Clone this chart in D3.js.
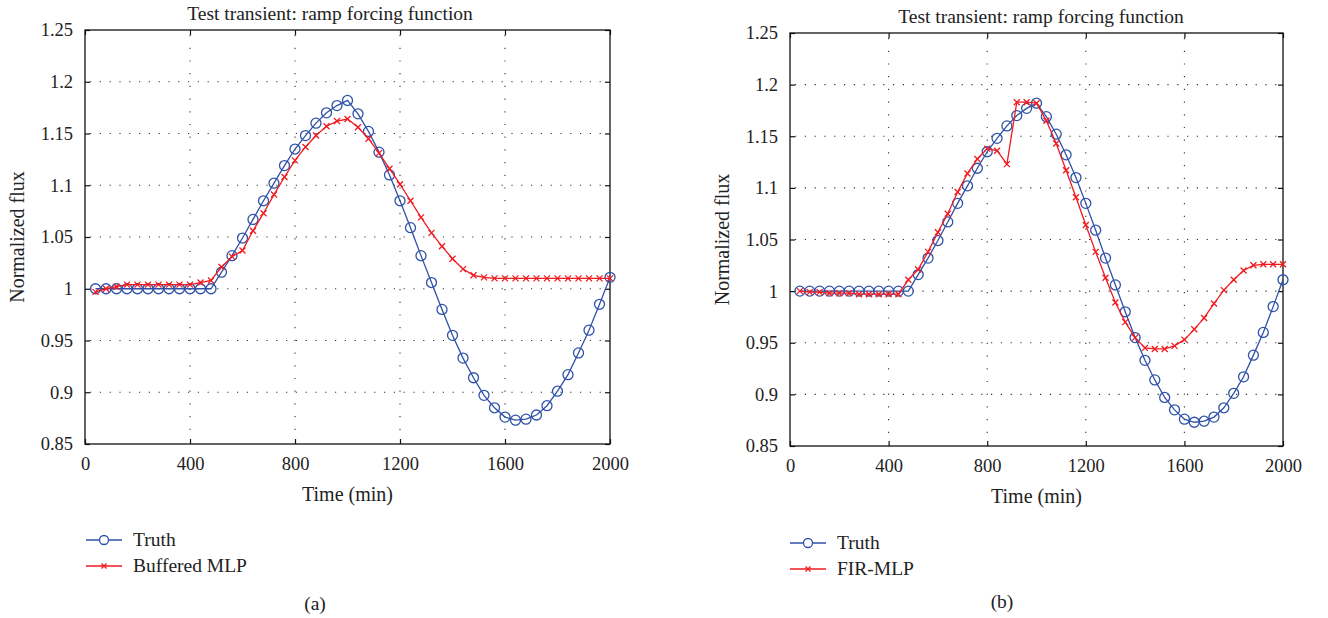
<!DOCTYPE html>
<html>
<head>
<meta charset="utf-8">
<script src="https://cdn.jsdelivr.net/npm/d3@7"></script>
<style>
  body { margin: 0; background: #fff; }
  svg text { font-family: "Liberation Serif", "DejaVu Serif", serif; fill: #222; }
</style>
</head>
<body>
<svg id="chart" width="1328" height="618"></svg>
<script>
// time stamps (min)
var timeMin = [40, 80, 120, 160, 200, 240, 280, 320, 360, 400, 440, 480, 520, 560, 600, 640, 680, 720, 760, 800,
  840, 880, 920, 960, 1000, 1040, 1080, 1120, 1160, 1200, 1240, 1280, 1320, 1360, 1400, 1440, 1480, 1520, 1560, 1600,
  1640, 1680, 1720, 1760, 1800, 1840, 1880, 1920, 1960, 2000];

var truth = [1.000, 1.000, 1.000, 1.000, 1.000, 1.000, 1.000, 1.000, 1.000, 1.000, 1.000, 1.000, 1.016, 1.032, 1.049,
  1.067, 1.085, 1.102, 1.119, 1.135, 1.148, 1.160, 1.170, 1.177, 1.182, 1.169, 1.152, 1.132, 1.110, 1.085, 1.059,
  1.032, 1.006, 0.980, 0.955, 0.933, 0.914, 0.897, 0.885, 0.876, 0.873, 0.874, 0.878, 0.887, 0.901, 0.917, 0.938,
  0.960, 0.985, 1.011];

var bufferedMLP = [0.997, 1.000, 1.002, 1.004, 1.004, 1.004, 1.004, 1.004, 1.004, 1.004, 1.006, 1.008, 1.021, 1.031,
  1.037, 1.056, 1.073, 1.091, 1.108, 1.124, 1.137, 1.148, 1.157, 1.162, 1.164, 1.156, 1.145, 1.131, 1.116, 1.101,
  1.085, 1.069, 1.054, 1.041, 1.029, 1.019, 1.013, 1.011, 1.010, 1.010, 1.010, 1.010, 1.010, 1.010, 1.010, 1.010,
  1.010, 1.010, 1.010, 1.010];

var firMLP = [1.000, 0.999, 0.999, 0.998, 0.998, 0.998, 0.997, 0.997, 0.997, 0.997, 0.997, 1.011, 1.021, 1.038, 1.057,
  1.075, 1.096, 1.114, 1.128, 1.138, 1.136, 1.123, 1.183, 1.183, 1.182, 1.165, 1.143, 1.117, 1.091, 1.064, 1.038,
  1.013, 0.989, 0.970, 0.955, 0.945, 0.944, 0.944, 0.947, 0.953, 0.963, 0.974, 0.988, 1.001, 1.011, 1.020, 1.025,
  1.026, 1.026, 1.026];

var xTicks = [0, 400, 800, 1200, 1600, 2000];
var yTicks = [0.85, 0.9, 0.95, 1, 1.05, 1.1, 1.15, 1.2, 1.25];

var blue = "#2f52a8", red = "#f01a1f";

var svg = d3.select("#chart");

drawPanel({ left: 85, right: 610, top: 30, bottom: 444, titleX: 330, tagX: 315, tagY: 610,
  legX: 86, legY: 540, name: "Buffered MLP", model: bufferedMLP, tag: "(a)", ylabX: 17 });
drawPanel({ left: 790, right: 1283, top: 33, bottom: 446, titleX: 1041, tagX: 1002, tagY: 608,
  legX: 790, legY: 543, name: "FIR-MLP", model: firMLP, tag: "(b)", ylabX: 722 });

function drawPanel(p){

  var x = d3.scaleLinear().domain([0, 2000]).range([p.left, p.right]);
  var y = d3.scaleLinear().domain([0.85, 1.25]).range([p.bottom, p.top]);
  var g = svg.append("g");

  // dotted grid
  g.selectAll(".hg").data(yTicks.slice(1, -1)).enter().append("line")
    .attr("x1", p.left + 5).attr("x2", p.right - 5)
    .attr("y1", function(d){ return y(d); }).attr("y2", function(d){ return y(d); })
    .attr("stroke", "#333").attr("stroke-width", 1.1).attr("stroke-dasharray", "1.2,8.6");
  g.selectAll(".vg").data(xTicks.slice(1, -1)).enter().append("line")
    .attr("y1", p.top + 5).attr("y2", p.bottom - 5)
    .attr("x1", function(d){ return x(d); }).attr("x2", function(d){ return x(d); })
    .attr("stroke", "#333").attr("stroke-width", 1.1).attr("stroke-dasharray", "1.2,11.5");

  // axes with inward ticks on all sides
  g.append("g").attr("transform", "translate(0," + p.bottom + ")")
    .call(d3.axisBottom(x).tickValues(xTicks).tickSizeInner(-5).tickSizeOuter(0).tickPadding(13).tickFormat(d3.format("d")));
  g.append("g").attr("transform", "translate(0," + p.top + ")")
    .call(d3.axisTop(x).tickValues(xTicks).tickSizeInner(-5).tickSizeOuter(0).tickFormat(""));
  g.append("g").attr("transform", "translate(" + p.left + ",0)")
    .call(d3.axisLeft(y).tickValues(yTicks).tickSizeInner(-5).tickSizeOuter(0).tickPadding(12).tickFormat(function(d){ return String(+d.toFixed(2)); }));
  g.append("g").attr("transform", "translate(" + p.right + ",0)")
    .call(d3.axisRight(y).tickValues(yTicks).tickSizeInner(-5).tickSizeOuter(0).tickFormat(""));
  g.selectAll(".domain").remove();
  g.selectAll(".tick line").attr("stroke", "#111").attr("stroke-width", 1.2);
  g.selectAll(".tick text").attr("font-size", 18.5).attr("fill", "#222")
    .attr("font-family", "Liberation Serif, DejaVu Serif, serif");

  g.append("rect").attr("x", p.left).attr("y", p.top)
    .attr("width", p.right - p.left).attr("height", p.bottom - p.top)
    .attr("fill", "none").attr("stroke", "#111").attr("stroke-width", 1.3);

  var truthPts = timeMin.map(function(t, i){ return [t, truth[i]]; });
  var modelPts = timeMin.map(function(t, i){ return [t, p.model[i]]; });
  var line = d3.line().x(function(d){ return x(d[0]); }).y(function(d){ return y(d[1]); });

  g.append("path").datum(truthPts).attr("d", line).attr("fill", "none").attr("stroke", blue).attr("stroke-width", 1.3);
  g.selectAll(".tc").data(truthPts).enter().append("circle")
    .attr("cx", function(d){ return x(d[0]); }).attr("cy", function(d){ return y(d[1]); })
    .attr("r", 5).attr("fill", "none").attr("stroke", blue).attr("stroke-width", 1.3);

  g.append("path").datum(modelPts).attr("d", line).attr("fill", "none").attr("stroke", red).attr("stroke-width", 1.3);
  g.selectAll(".mx").data(modelPts).enter().append("path")
    .attr("d", function(d){
      var cx = x(d[0]), cy = y(d[1]), s = 3;
      return "M" + (cx - s) + "," + (cy - s) + "L" + (cx + s) + "," + (cy + s) + "M" + (cx - s) + "," + (cy + s) + "L" + (cx + s) + "," + (cy - s);
    })
    .attr("stroke", red).attr("stroke-width", 1.3);

  // titles and labels
  g.append("text").attr("x", p.titleX).attr("y", p.top - 10).attr("text-anchor", "middle")
    .attr("font-size", 19.5).text("Test transient: ramp forcing function");
  g.append("text").attr("x", (p.left + p.right) / 2).attr("y", p.bottom + 57).attr("text-anchor", "middle")
    .attr("font-size", 20).text("Time (min)");
  g.append("text").attr("transform", "translate(" + p.ylabX + "," + ((p.top + p.bottom) / 2) + ") rotate(-90)")
    .attr("text-anchor", "middle").attr("dy", "0.35em").attr("font-size", 20).text("Normalized flux");

  // legend
  var legend = [{ name: "Truth", color: blue, mark: "o" }, { name: p.name, color: red, mark: "x" }];
  legend.forEach(function(item, i){
    var ly = p.legY + i * 26, lx = p.legX;
    g.append("line").attr("x1", lx).attr("x2", lx + 36).attr("y1", ly).attr("y2", ly)
      .attr("stroke", item.color).attr("stroke-width", 1.3);
    if (item.mark == "o") {
      g.append("circle").attr("cx", lx + 18).attr("cy", ly).attr("r", 4.5)
        .attr("fill", "#fff").attr("stroke", item.color).attr("stroke-width", 1.3);
    } else {
      g.append("path").attr("d", "M" + (lx + 15.5) + "," + (ly - 2.5) + "L" + (lx + 20.5) + "," + (ly + 2.5) +
        "M" + (lx + 15.5) + "," + (ly + 2.5) + "L" + (lx + 20.5) + "," + (ly - 2.5))
        .attr("stroke", item.color).attr("stroke-width", 1.3);
    }
    g.append("text").attr("x", lx + 47).attr("y", ly + 6).attr("font-size", 19.5).text(item.name);
  });

  g.append("text").attr("x", p.tagX).attr("y", p.tagY).attr("text-anchor", "middle")
    .attr("font-size", 19.5).text(p.tag);
}
</script>
</body>
</html>
